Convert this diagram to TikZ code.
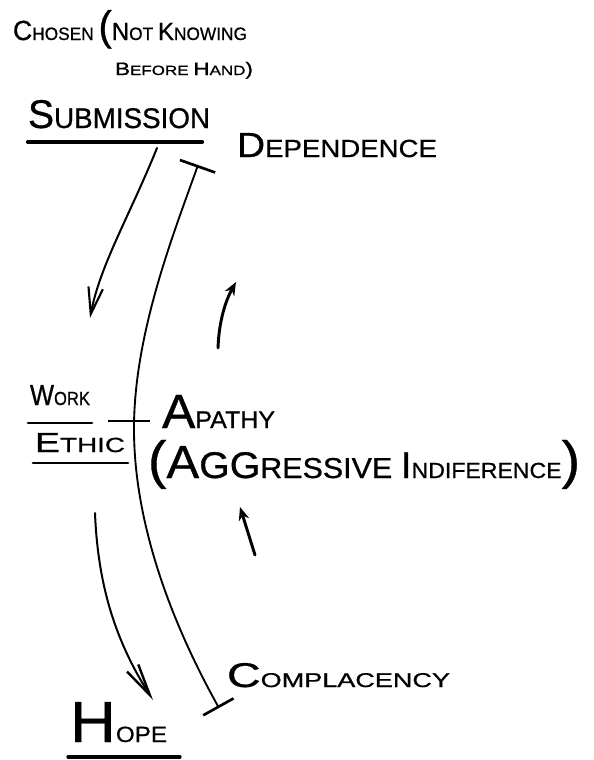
\documentclass[tikz,border=0pt]{standalone}
\usepackage{graphicx}
\usepackage{fontspec}
\setmainfont{Liberation Sans}[BoldFont=Liberation Sans, BoldFeatures={FakeBold=0.7}]
\usetikzlibrary{arrows.meta}
\newcommand\fs[2]{{\fontsize{#1pt}{#1pt}\selectfont #2}}
\tikzset{
  lbl/.style={anchor=base west, inner sep=0pt, outer sep=0pt, font=\bfseries},
  arcline/.style={line width=1.4pt, line cap=round},
  downarrow/.style={line width=1.5pt, line cap=round},
  uparrow/.style={line width=2.2pt, line cap=round, -{Stealth[length=10pt,width=8pt]}},
  uline/.style={line width=2pt, line cap=round},
  tickline/.style={line width=1.8pt}
}
\begin{document}
\begin{tikzpicture}[x=0.75pt, y=-0.75pt]
\fill[white] (0,0) rectangle (593,760);
\useasboundingbox (0,0) rectangle (593,760);

% texts
\node[lbl] (chosen) at (13,40) {\resizebox{175.5pt}{22.5pt}{\fs{10}{C}\fs{6.5}{HOSEN }\fs{15}{(}\fs{9}{N}\fs{6.5}{OT }\fs{9}{K}\fs{6.5}{NOWING}}};
\node[lbl] (before) at (115,75) {\resizebox{103.5pt}{9.75pt}{\fs{10}{B}\fs{7.5}{EFORE }\fs{10}{H}\fs{7.5}{AND}\fs{10}{)}}};
\node[lbl] (sub) at (28,128) {\resizebox{136.5pt}{21pt}{\fs{10}{S}\fs{7.1}{UBMISSION}}};
\node[lbl] (dep) at (237,157) {\resizebox{150pt}{18pt}{\fs{10}{D}\fs{7.1}{EPENDENCE}}};
\node[lbl] (work) at (30,405) {\resizebox{45pt}{15pt}{\fs{10}{W}\fs{6.5}{ORK}}};
\node[lbl] (ethic) at (35,452) {\resizebox{67.5pt}{14.25pt}{\fs{10}{E}\fs{7.4}{THIC}}};
\node[lbl] (apathy) at (162,428) {\resizebox{84.75pt}{24.75pt}{\fs{10}{A}\fs{5}{PATHY}}};
\node[lbl] (aggr) at (148,478) {\resizebox{324pt}{28.5pt}{\fs{11.3}{(}\fs{10}{A}\fs{8}{GG}\fs{6.2}{RESSIVE }\fs{8}{I}\fs{4.7}{NDIFERENCE}\fs{11.3}{)}}};
\node[lbl] (compl) at (227,687) {\resizebox{167.25pt}{18pt}{\fs{10}{C}\fs{5.8}{OMPLACENCY}}};
\node[lbl] (hope) at (70,742) {\resizebox{72.75pt}{30pt}{\fs{10}{H}\fs{3.8}{OPE}}};

% underlines
\draw[line width=3.2pt, line cap=round] (28,142) -- (202,142);
\draw[uline] (28,423) -- (92,423);
\draw[uline] (33,463) -- (128,463);
\draw[line width=2.4pt, line cap=round] (68,757) -- (180,757);

% long arc with T-bars
\coordinate (arcTop) at (198,165);
\coordinate (arcMid) at (134,425);
\coordinate (arcBot) at (219,708);
\draw[arcline, {Bar[width=28pt,line width=2pt]}-{Bar[width=26pt,line width=2pt]}]
  (arcTop) .. controls (175,230) and (135,330) .. (arcMid)
  .. controls (133,520) and (170,620) .. (arcBot);

% tick at apathy
\coordinate (tickL) at (108,421);
\coordinate (tickR) at (150,421);
\draw[tickline] (tickL) -- (tickR);

% down arrow from submission
\coordinate (d1s) at (157,148);
\coordinate (d1e) at (90,318);
\draw[downarrow, -{Straight Barb[length=20pt,width=11pt,line width=1.6pt]}] (d1s) .. controls (130,215) and (100,265) .. (d1e);

% down arrow to hope
\coordinate (d2s) at (95,513);
\coordinate (d2e) at (153,700);
\draw[downarrow, -{Straight Barb[length=24pt,width=10pt,line width=1.8pt]}] (d2s) .. controls (98,590) and (118,645) .. (d2e);

% up arrows
\coordinate (u1s) at (218,348);
\coordinate (u1e) at (236,282);
\draw[uparrow] (u1s) .. controls (219,320) and (226,300) .. (u1e);
\coordinate (u2s) at (255,555);
\coordinate (u2e) at (240,507);
\draw[uparrow] (u2s) -- (u2e);
\end{tikzpicture}
\end{document}
